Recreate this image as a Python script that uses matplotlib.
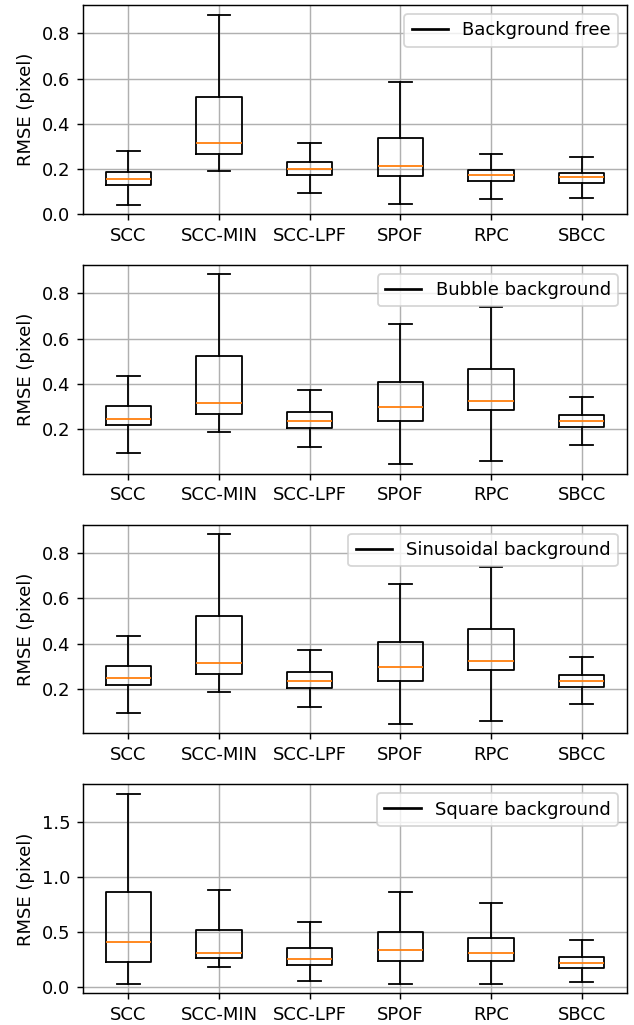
'''
RMSE box plots for the six correlation methods under four backgrounds.
'''
# import libraries ----------------------------------------
import matplotlib
matplotlib.use('Agg')
import matplotlib.pyplot as plt

# data ----------------------------------------------------
methods = ['SCC', 'SCC-MIN', 'SCC-LPF', 'SPOF', 'RPC', 'SBCC']
backgrounds = ['Background free', 'Bubble background',
               'Sinusoidal background', 'Square background']

# whisker low, Q1, median, Q3, whisker high (pixel), one row per method
free_stats = [
    [0.041, 0.128, 0.155, 0.187, 0.279],
    [0.189, 0.267, 0.316, 0.520, 0.883],
    [0.092, 0.171, 0.199, 0.229, 0.313],
    [0.045, 0.168, 0.211, 0.335, 0.583],
    [0.066, 0.145, 0.174, 0.196, 0.264],
    [0.072, 0.137, 0.162, 0.183, 0.251],
]
bubble_stats = [
    [0.094, 0.218, 0.247, 0.303, 0.434],
    [0.188, 0.267, 0.316, 0.521, 0.883],
    [0.122, 0.206, 0.235, 0.274, 0.371],
    [0.046, 0.235, 0.299, 0.409, 0.665],
    [0.059, 0.284, 0.324, 0.466, 0.738],
    [0.132, 0.210, 0.235, 0.263, 0.341],
]
sine_stats = [
    [0.094, 0.218, 0.247, 0.303, 0.434],
    [0.188, 0.267, 0.316, 0.521, 0.883],
    [0.122, 0.206, 0.235, 0.274, 0.371],
    [0.046, 0.235, 0.299, 0.409, 0.665],
    [0.059, 0.284, 0.324, 0.466, 0.738],
    [0.132, 0.210, 0.235, 0.263, 0.341],
]
square_stats = [
    [0.033, 0.232, 0.413, 0.867, 1.750],
    [0.187, 0.262, 0.313, 0.518, 0.883],
    [0.054, 0.199, 0.253, 0.352, 0.587],
    [0.033, 0.241, 0.340, 0.497, 0.867],
    [0.033, 0.235, 0.313, 0.446, 0.765],
    [0.045, 0.175, 0.220, 0.274, 0.425],
]
all_stats = [free_stats, bubble_stats, sine_stats, square_stats]

# plot ----------------------------------------------------
dpi = 130
fig, axes = plt.subplots(4, 1, figsize=(634 / dpi, 1025 / dpi), dpi=dpi)
fig.subplots_adjust(left=0.131, right=0.989, top=0.995, bottom=0.031,
                    hspace=0.244)

for ax, name, rows in zip(axes, backgrounds, all_stats):
    # build the box statistics for bxp:
    stats = []
    for method, (lo, q1, med, q3, hi) in zip(methods, rows):
        stats.append({'label': method, 'whislo': lo, 'q1': q1,
                      'med': med, 'q3': q3, 'whishi': hi, 'fliers': []})
    ax.bxp(stats, showfliers=False)
    ax.plot([], [], 'k-', label=name)
    ax.legend(loc='upper right')
    ax.grid(True)
    ax.set_ylabel('RMSE (pixel)')

# first panel starts at zero:
axes[0].set_ylim(bottom=0)

# save:
plt.savefig('out.png', dpi=dpi)
